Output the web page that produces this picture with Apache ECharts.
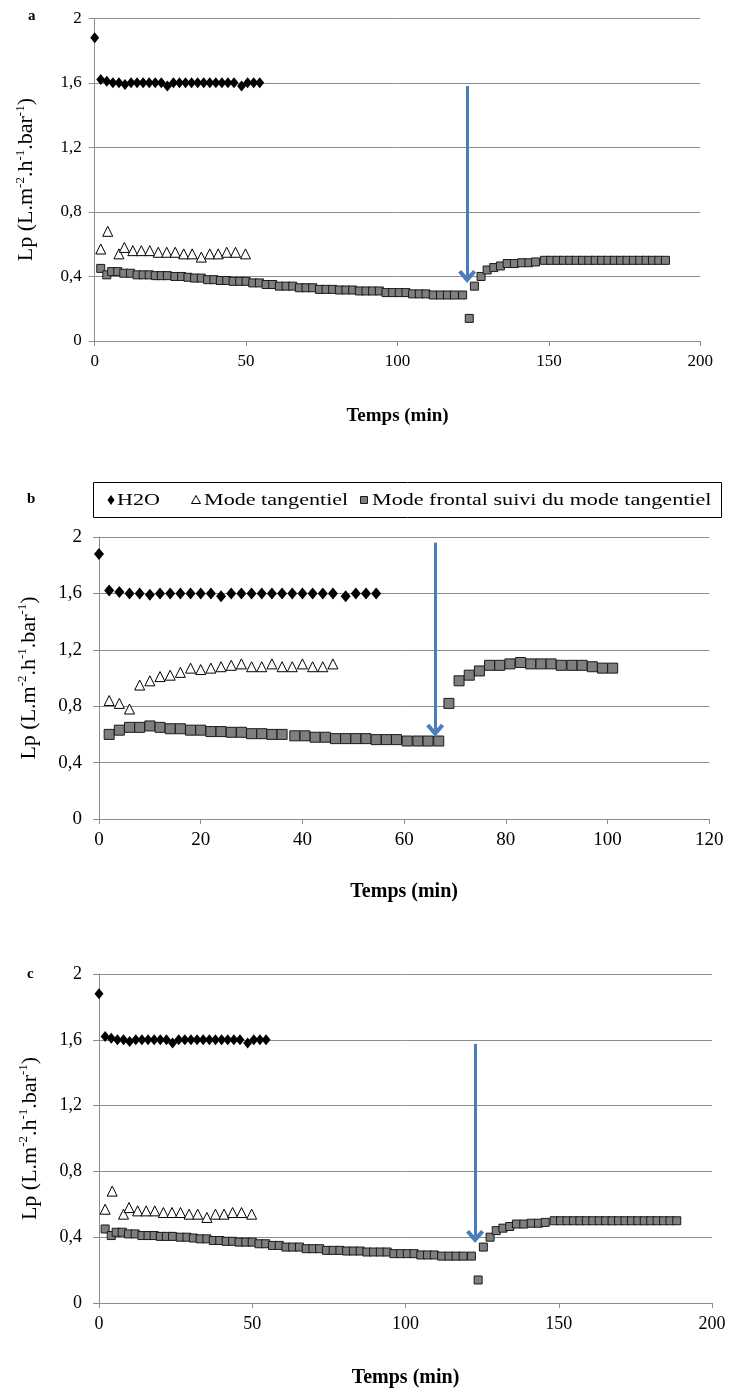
<!DOCTYPE html>
<html><head><meta charset="utf-8">
<script src="https://cdn.jsdelivr.net/npm/echarts@6/dist/echarts.min.js"></script>
<style>html,body{margin:0;padding:0;background:#fff}#c{width:731px;height:1391px}</style>
</head><body><div id="c"></div>
<script>
// ---- data ----
const panelLabels = ['a', 'b', 'c'];
const seriesNames = ['H2O', 'Mode tangentiel', 'Mode frontal suivi du mode tangentiel'];

// H2O (same run shown in all three panels)
const h2oTime = [0, 2, 4, 6, 8, 10, 12, 14, 16, 18, 20, 22, 24, 26, 28, 30, 32, 34, 36, 38, 40, 42, 44, 46, 48.5, 50.5, 52.5, 54.5];
const h2oLp   = [1.88, 1.62, 1.61, 1.60, 1.60, 1.59, 1.60, 1.60, 1.60, 1.60, 1.60, 1.60, 1.58, 1.60, 1.60, 1.60, 1.60, 1.60, 1.60, 1.60, 1.60, 1.60, 1.60, 1.60, 1.58, 1.60, 1.60, 1.60];

// Panels a and c
const tangAcTime = [2, 4.3, 8, 9.8, 12.6, 15.4, 18.2, 21, 23.8, 26.6, 29.4, 32.2, 35.2, 38, 40.8, 43.6, 46.5, 49.8];
const tangAcLp   = [0.57, 0.68, 0.54, 0.58, 0.56, 0.56, 0.56, 0.55, 0.55, 0.55, 0.54, 0.54, 0.52, 0.54, 0.54, 0.55, 0.55, 0.54];
const frontAcTime = [2, 4, 5.6, 7.6, 9.6, 11.8, 14, 16, 18, 20, 22, 24, 26.5, 28.7, 30.8, 33, 35.2, 37.3, 39.4, 41.5,
  43.6, 45.7, 47.9, 50, 52.2, 54.4, 56.6, 58.8, 61, 63.2, 65.4, 67.6, 69.8, 72, 74.2, 76.4, 78.6, 80.8, 83, 85.2,
  87.4, 89.6, 91.8, 94, 96.2, 98.4, 100.6, 102.8, 105, 107.2, 109.4, 111.8, 114.2, 116.5, 118.8, 121.5, 123.7, 125.4, 127.6, 129.6,
  131.8, 134, 136.2, 138.6, 141, 143.4, 145.6, 148.5, 150.6, 152.7, 154.8, 156.9, 159, 161.1, 163.2, 165.3, 167.4, 169.5, 171.6, 173.7,
  175.8, 177.9, 180, 182.1, 184.2, 186.3, 188.5];
const frontAcLp = [0.45, 0.41, 0.43, 0.43, 0.42, 0.42, 0.41, 0.41, 0.41, 0.405, 0.405, 0.405, 0.40, 0.40, 0.395, 0.39, 0.39, 0.38, 0.38, 0.375,
  0.375, 0.37, 0.37, 0.37, 0.36, 0.36, 0.35, 0.35, 0.34, 0.34, 0.34, 0.33, 0.33, 0.33, 0.32, 0.32, 0.32, 0.316, 0.316, 0.316,
  0.31, 0.31, 0.31, 0.31, 0.30, 0.30, 0.30, 0.30, 0.292, 0.292, 0.292, 0.285, 0.285, 0.285, 0.285, 0.285, 0.14, 0.34, 0.40, 0.44,
  0.455, 0.465, 0.48, 0.48, 0.485, 0.485, 0.49, 0.50, 0.50, 0.50, 0.50, 0.50, 0.50, 0.50, 0.50, 0.50, 0.50, 0.50, 0.50, 0.50,
  0.50, 0.50, 0.50, 0.50, 0.50, 0.50, 0.50];

// Panel b
const tangBTime = [2, 4, 6, 8, 10, 12, 14, 16, 18, 20, 22, 24, 26, 28, 30, 32, 34, 36, 38, 40, 42, 44, 46];
const tangBLp   = [0.84, 0.82, 0.78, 0.95, 0.98, 1.01, 1.02, 1.04, 1.07, 1.06, 1.07, 1.08, 1.09, 1.10, 1.08, 1.08, 1.10, 1.08, 1.08, 1.10, 1.08, 1.08, 1.10];
const frontBTime = [2, 4, 6, 8, 10, 12, 14, 16, 18, 20, 22, 24, 26, 28, 30, 32, 34, 36, 38.5, 40.5,
  42.5, 44.5, 46.5, 48.5, 50.5, 52.5, 54.5, 56.5, 58.5, 60.6, 62.7, 64.7, 66.8, 68.8, 70.8, 72.8, 74.8, 76.8, 78.8, 80.8,
  82.9, 84.9, 86.9, 88.9, 90.9, 93, 95, 97, 99, 101];
const frontBLp = [0.60, 0.63, 0.65, 0.65, 0.66, 0.65, 0.64, 0.64, 0.63, 0.63, 0.62, 0.62, 0.615, 0.615, 0.605, 0.605, 0.60, 0.60, 0.59, 0.59,
  0.58, 0.58, 0.57, 0.57, 0.57, 0.57, 0.563, 0.563, 0.563, 0.553, 0.553, 0.553, 0.553, 0.82, 0.98, 1.02, 1.05, 1.09, 1.09, 1.10,
  1.11, 1.10, 1.10, 1.10, 1.09, 1.09, 1.09, 1.08, 1.07, 1.07];

// x-axis ranges per panel
const xMax = [200, 120, 200];
const xStep = [50, 20, 50];
// arrows: [time, top Lp, end Lp]
const arrows = [[123, 1.58, 0.40], [66.1, 1.96, 0.63], [122.7, 1.575, 0.405]];

// ---- chart ----
const FONT = 'Liberation Serif, Times New Roman, serif';
const pair = (xs, ys) => xs.map((x, i) => [x, ys[i]]);
const grids = [
  { left: 94.7, right: 30.7, top: 18.3, height: 322.7 },
  { left: 99, right: 21.7, top: 537, height: 282 },
  { left: 99, right: 19, top: 974, height: 329 }
];
const tickFont = [17, 19, 18];
const titleFont = [19, 20, 20];
const yTitleFont = [22, 22, 22];
const nameGapY = [55, 57, 56];
const nameGapX = [66, 63, 65];
const yLabelMargin = [13, 17, 17];
const fmtY = v => String(+v.toFixed(1)).replace('.', ',');
const chevron = 'path://M0,10 L10,0 L20,10 L16.5,12.5 L10,6 L3.5,12.5 Z';

const xAxes = grids.map((g, i) => ({
  type: 'value', gridIndex: i, min: 0, max: xMax[i], interval: xStep[i],
  name: 'Temps (min)', nameLocation: 'middle', nameGap: nameGapX[i],
  nameTextStyle: { fontFamily: FONT, fontSize: titleFont[i], fontWeight: 'bold', color: '#000' },
  axisLine: { show: true, lineStyle: { color: '#8c8c8c', width: 1 } },
  axisTick: { show: true, length: 5, lineStyle: { color: '#8c8c8c' } },
  axisLabel: { fontFamily: FONT, fontSize: tickFont[i], color: '#000', margin: 12 },
  splitLine: { show: false }
}));
const yAxes = grids.map((g, i) => ({
  type: 'value', gridIndex: i, min: 0, max: 2, interval: 0.4,
  name: 'Lp (L.m{s|-2}.h{s|-1}.bar{s|-1})', nameLocation: 'middle', nameGap: nameGapY[i],
  nameTextStyle: { fontFamily: FONT, fontSize: yTitleFont[i], color: '#000', lineHeight: 26,
    rich: { s: { fontFamily: FONT, fontSize: 13, color: '#000', verticalAlign: 'top', lineHeight: 26 } } },
  axisLine: { show: true, lineStyle: { color: '#8c8c8c', width: 1 } },
  axisTick: { show: true, length: 6, lineStyle: { color: '#8c8c8c' } },
  axisLabel: { fontFamily: FONT, fontSize: tickFont[i], color: '#000', margin: yLabelMargin[i], formatter: fmtY },
  splitLine: { show: true, lineStyle: { color: '#8c8c8c', width: 1 } }
}));

const panelData = [
  [pair(h2oTime, h2oLp), pair(tangAcTime, tangAcLp), pair(frontAcTime, frontAcLp)],
  [pair(h2oTime, h2oLp), pair(tangBTime, tangBLp), pair(frontBTime, frontBLp)],
  [pair(h2oTime, h2oLp), pair(tangAcTime, tangAcLp), pair(frontAcTime, frontAcLp)]
];
const sizes = [[9, 10, 8], [10, 10, 10], [9, 10, 8]];

const series = [];
panelData.forEach((d, i) => {
  series.push({ name: seriesNames[0], type: 'scatter', xAxisIndex: i, yAxisIndex: i, data: d[0],
    symbol: 'diamond', symbolSize: [sizes[i][0], sizes[i][0] + 2], itemStyle: { color: '#000', opacity: 1 } });
  series.push({ name: seriesNames[1], type: 'scatter', xAxisIndex: i, yAxisIndex: i, data: d[1],
    symbol: 'triangle', symbolSize: sizes[i][1], itemStyle: { color: '#fff', borderColor: '#000', borderWidth: 1, opacity: 1 } });
  const a = arrows[i];
  series.push({ name: seriesNames[2], type: 'scatter', xAxisIndex: i, yAxisIndex: i, data: d[2],
    symbol: 'rect', symbolSize: sizes[i][2], itemStyle: { color: '#7f7f7f', borderColor: '#1a1a1a', borderWidth: 1, opacity: 1 },
    markLine: {
      silent: true, animation: false, symbol: ['none', chevron], symbolSize: [18, 13],
      label: { show: false }, lineStyle: { color: '#4a7ebb', width: 3, type: 'solid', opacity: 1 },
      emphasis: { disabled: true },
      data: [[{ coord: [a[0], a[1]] }, { coord: [a[0], a[2]] }]]
    } });
});

// legend box (stretched text like the reference)
const LY = 500, SX = 1.3;
const legendGraphic = [
  { type: 'rect', shape: { x: 93.5, y: 482.5, width: 628, height: 35 }, style: { fill: 'none', stroke: '#000', lineWidth: 1 } },
  { type: 'polygon', shape: { points: [[111, LY - 5], [114.5, LY], [111, LY + 5], [107.5, LY]] }, style: { fill: '#000' } },
  { type: 'text', x: 117, y: LY + 1, scaleX: SX, style: { text: seriesNames[0], font: '17px ' + FONT, fill: '#000', verticalAlign: 'middle' } },
  { type: 'polygon', shape: { points: [[196, LY - 4.5], [200.5, LY + 3.5], [191.5, LY + 3.5]] }, style: { fill: '#fff', stroke: '#000', lineWidth: 1 } },
  { type: 'text', x: 204, y: LY + 1, scaleX: SX, style: { text: seriesNames[1], font: '17px ' + FONT, fill: '#000', verticalAlign: 'middle' } },
  { type: 'rect', shape: { x: 360.5, y: LY - 3.5, width: 7, height: 7 }, style: { fill: '#7f7f7f', stroke: '#1a1a1a', lineWidth: 1 } },
  { type: 'text', x: 372, y: LY + 1, scaleX: SX, style: { text: seriesNames[2], font: '17px ' + FONT, fill: '#000', verticalAlign: 'middle' } }
];

const chart = echarts.init(document.getElementById('c'), null, { renderer: 'canvas' });
chart.setOption({
  animation: false,
  backgroundColor: '#fff',
  grid: grids,
  xAxis: xAxes,
  yAxis: yAxes,
  graphic: [
    { type: 'text', x: 28, y: 9, style: { text: panelLabels[0], font: 'bold 15px ' + FONT, fill: '#000' } },
    { type: 'text', x: 27, y: 492, style: { text: panelLabels[1], font: 'bold 15px ' + FONT, fill: '#000' } },
    { type: 'text', x: 27, y: 967, style: { text: panelLabels[2], font: 'bold 15px ' + FONT, fill: '#000' } }
  ].concat(legendGraphic),
  series: series
});
</script></body></html>
